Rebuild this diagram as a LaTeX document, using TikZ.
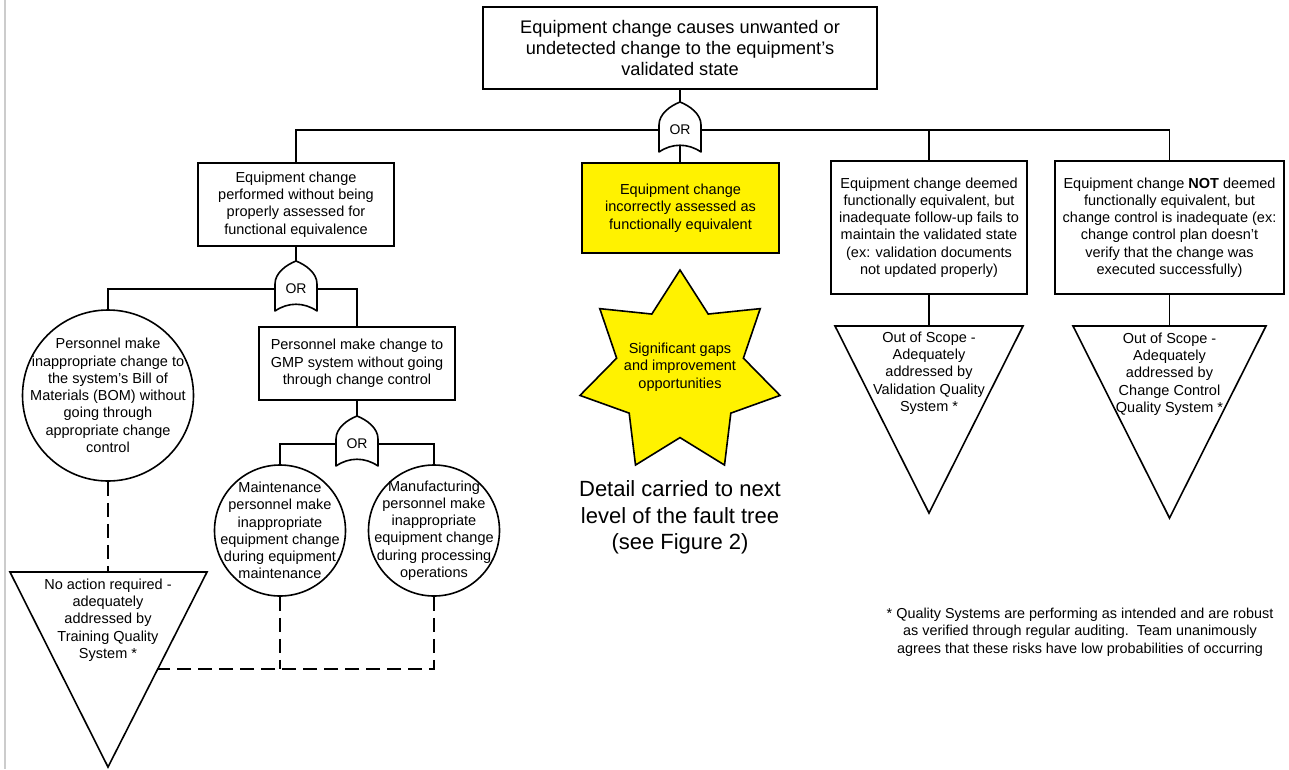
\documentclass[tikz,border=0pt]{standalone}
\usepackage{fontspec}
\setmainfont{Liberation Sans}
\usetikzlibrary{calc}
\tikzset{
  ln/.style={line width=1.6pt},
  boxst/.style={draw, line width=1.6pt, inner sep=0pt, align=center, font=\fontsize{14.5}{17.3}\selectfont},
  txt/.style={inner sep=0pt, align=center, font=\fontsize{14.5}{17.3}\selectfont},
  circst/.style={circle, draw, line width=1.6pt, inner sep=0pt},
  gatest/.style={inner sep=0pt, minimum width=42pt, minimum height=10pt, font=\fontsize{14}{16}\selectfont},
  dsh/.style={line width=1.8pt, dash pattern=on 14pt off 7pt},
}
\newcommand\orgate[3]{%
  \node[gatest] (#1) at (#2,#3) {OR};
  \coordinate (#1-top) at (#2,#3-28);
  \coordinate (#1-bot) at (#2,#3+15);
  \draw[ln, line join=round, shift={(#1)}] (-21,-5) .. controls (-21,-16) and (-10,-24) .. (0,-28) .. controls (10,-24) and (21,-16) .. (21,-5) -- (21,22) .. controls (8,13) and (-8,13) .. (-21,22) -- cycle;
}
\begin{document}
\begin{tikzpicture}[x=1pt,y=-1pt]
\fill[white] (0,0) rectangle (1289,769);
\useasboundingbox (0,0) rectangle (1289,769);
\draw[gray!40, line width=2pt] (5,0) -- (5,769);

% top event
\node[boxst, minimum width=394pt, minimum height=82pt, font=\fontsize{18.2}{21}\selectfont] (top) at (680,48) {Equipment change causes unwanted or\\undetected change to the equipment’s\\validated state};

% gates
\orgate{g1}{680}{130}
\orgate{g2}{296}{289}
\orgate{g3}{357}{444}

% level 2 boxes
\node[boxst, minimum width=196pt, minimum height=83pt] (b1) at (296,204.5) {Equipment change\\performed without being\\properly assessed for\\functional equivalence};
\node[boxst, fill=yellow, minimum width=197pt, minimum height=90pt] (mid) at (680.5,208) {Equipment change\\incorrectly assessed as\\functionally equivalent};
\node[boxst, minimum width=196pt, minimum height=133pt] (b4) at (929,227.5) {Equipment change deemed\\functionally equivalent, but\\inadequate follow-up fails to\\maintain the validated state\\(ex: validation documents\\not updated properly)};
\node[boxst, minimum width=229pt, minimum height=133pt] (b5) at (1169.5,227.5) {Equipment change \textbf{NOT} deemed\\functionally equivalent, but\\change control is inadequate (ex:\\change control plan doesn’t\\verify that the change was\\executed successfully)};
\node[boxst, minimum width=196pt, minimum height=73pt] (b2) at (357,363.5) {Personnel make change to\\GMP system without going\\through change control};

% circles
\node[circst, minimum size=171pt] (c1) at (108,395.5) {};
\node[txt] (c1t) at (108,395.5) {Personnel make\\inappropriate change to\\the system’s Bill of\\Materials (BOM) without\\going through\\appropriate change\\control};
\node[circst, minimum size=131pt] (c2) at (280,530.5) {};
\node[txt] (c2t) at (280,530.5) {Maintenance\\personnel make\\inappropriate\\equipment change\\during equipment\\maintenance};
\node[circst, minimum size=131pt] (c3) at (434,530.5) {};
\node[txt] (c3t) at (434,530.5) {Manufacturing\\personnel make\\inappropriate\\equipment change\\during processing\\operations};

% triangles
\coordinate (t1) at (108,572); \coordinate (t1l) at (10,572); \coordinate (t1r) at (207,572); \coordinate (t1b) at (108,767);
\draw[ln, line join=miter] (t1l) -- (t1r) -- (t1b) -- cycle;
\node[txt] (t1t) at (108,620) {No action required -\\adequately\\addressed by\\Training Quality\\System *};

\coordinate (t4) at (929,326); \coordinate (t4l) at (835,326); \coordinate (t4r) at (1023,326); \coordinate (t4b) at (929,513);
\draw[ln, line join=miter] (t4l) -- (t4r) -- (t4b) -- cycle;
\node[txt] (t4t) at (929,373) {Out of Scope -\\Adequately\\addressed by\\Validation Quality\\System *};

\coordinate (t5) at (1169.5,326); \coordinate (t5l) at (1073,326); \coordinate (t5r) at (1266,326); \coordinate (t5b) at (1169.5,518);
\draw[ln, line join=miter] (t5l) -- (t5r) -- (t5b) -- cycle;
\node[txt] (t5t) at (1169.5,374) {Out of Scope -\\Adequately\\addressed by\\Change Control\\Quality System *};

% star
\draw[ln, fill=yellow, line join=miter, shift={(680,372.6)}] (270:102.6) -- (295.71:65) -- (321.43:102.6) -- (347.14:65) -- (12.86:102.6) -- (38.57:65) -- (64.29:102.6) -- (90:65) -- (115.71:102.6) -- (141.43:65) -- (167.14:102.6) -- (192.86:65) -- (218.57:102.6) -- (244.29:65) -- cycle;
\node[txt] (star) at (680,367) {Significant gaps\\and improvement\\opportunities};

\node[inner sep=0pt, align=center, font=\fontsize{22}{26.6}\selectfont] (detail) at (680,517.5) {Detail carried to next\\level of the fault tree\\(see Figure 2)};

\node[inner sep=0pt, align=center, font=\fontsize{14.4}{17.3}\selectfont] (note) at (1080,632) {* Quality Systems are performing as intended and are robust\\as verified through regular auditing.\ \ Team unanimously\\agrees that these risks have low probabilities of occurring};

% connectors
\draw[ln] (top.south) -- (g1-top);
\draw[ln] (g1.west) -| (b1.north);
\draw[ln] (g1.east) -| (b5.north);
\draw[ln] (b4.north) -- (b4.north |- g1.east);
\draw[ln] (g1-bot) -- (g1-bot |- mid.north);
\draw[ln] (b1.south) -- (g2-top);
\draw[ln] (g2.west) -| (c1.north);
\draw[ln] (g2.east) -| (b2.north);
\draw[ln] (b2.south) -- (g3-top);
\draw[ln] (g3.west) -| (c2.north);
\draw[ln] (g3.east) -| (c3.north);
\draw[ln] (b4.south) -- (t4);
\draw[ln] (b5.south) -- (t5);

\path (t1r) -- (t1b) coordinate[pos=0.497] (t1e);
\draw[dsh] (c1.south) -- (t1);
\draw[dsh] (c3.south) |- (t1e);
\draw[dsh] (c2.south) -- (c2.south |- t1e);
\end{tikzpicture}
\end{document}
